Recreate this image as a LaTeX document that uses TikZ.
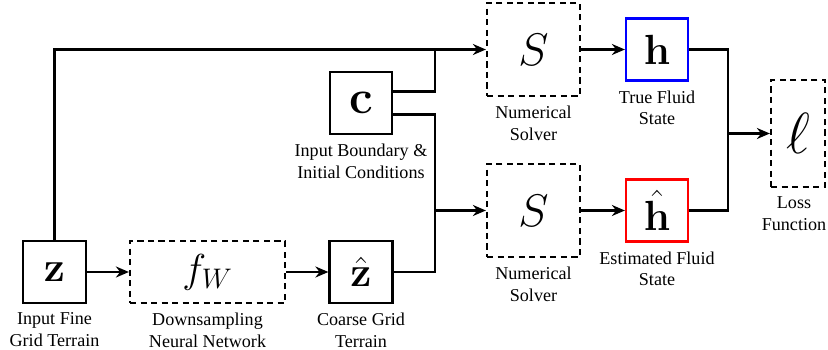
\documentclass[tikz,border=0pt]{standalone}
\usepackage{fix-cm}
\usepackage[no-math]{fontspec}
\setmainfont{Liberation Serif}
\usetikzlibrary{arrows.meta, positioning, calc}

\newcommand{\symsize}[1]{\fontsize{#1}{#1}\selectfont}

\begin{document}
\begin{tikzpicture}[
    every node/.style={font=\fontsize{10.3}{12.3}\selectfont},
    var/.style={rectangle, draw, line width=1.25pt, fill=white, minimum width=1.24cm, minimum height=1.24cm, inner sep=0pt},
    op/.style={var, dash pattern=on 3.5pt off 2.5pt},
    lbl/.style={align=center, inner sep=0pt, below=1.7mm of #1},
    arrow/.style={-{Stealth[length=2.6mm, width=2.2mm]}, line width=1.25pt},
    link/.style={line width=1.25pt}
]
\useasboundingbox (0,0) rectangle (16.56,-6.98);

% Bottom row
\node[var, minimum width=1.26cm] (z) at (1.09,-5.44) {\symsize{24}$\mathbf{z}$};
\node[op, minimum width=3.1cm] (fw) at (4.15,-5.44) {\symsize{23}$f_W$};
\node[var, minimum width=1.26cm] (zhat) at (7.22,-5.44) {\symsize{24}$\hat{\mathbf{z}}$};

% Boundary conditions
\node[var] (c) at (7.22,-2.06) {\symsize{27}$\mathbf{c}$};

% Solvers
\node[op, minimum width=1.86cm, minimum height=1.86cm] (s1) at (10.67,-0.99) {\symsize{26}$S$};
\node[op, minimum width=1.86cm, minimum height=1.86cm] (s2) at (10.67,-4.21) {\symsize{26}$S$};

% Fluid states
\node[var, draw=blue] (h) at (13.14,-0.99) {\symsize{24}$\mathbf{h}$};
\node[var, draw=red] (hhat) at (13.14,-4.21) {\symsize{24}$\hat{\mathbf{h}}$};

% Loss
\node[op, minimum width=1.08cm, minimum height=2.14cm] (loss) at (15.96,-2.67) {\symsize{33}$\ell$};

% Labels
\node[lbl=z] (zlab) {Input Fine\\Grid Terrain};
\node[lbl=fw] (fwlab) {Downsampling\\Neural Network};
\node[lbl=zhat] (zhatlab) {Coarse Grid\\Terrain};
\node[lbl=c] (clab) {Input Boundary \&\\Initial Conditions};
\node[lbl=s1] (s1lab) {Numerical\\Solver};
\node[lbl=s2] (s2lab) {Numerical\\Solver};
\node[lbl=h] (hlab) {True Fluid\\State};
\node[lbl=hhat] (hhatlab) {Estimated Fluid\\State};
\node[lbl=loss, xshift=-0.08cm] (losslab) {Loss\\Function};

% Junctions
\path (s1.west) ++(-1.02,0) coordinate (jt);
\path (s2.west) ++(-1.02,0) coordinate (jb);
\path (loss.west) ++(-0.84,0) coordinate (jl);

% Connections
\draw[arrow] (z) -- (fw);
\draw[arrow] (fw) -- (zhat);
\draw[arrow] (z.north) |- (s1.west);
\draw[link] ([yshift=2.3mm]c.east) -| (jt);
\draw[link] ([yshift=-2.3mm]c.east) -| (jb);
\draw[link] (zhat.east) -| (jb);
\draw[arrow] (jb) -- (s2.west);
\draw[arrow] (s1) -- (h);
\draw[arrow] (s2) -- (hhat);
\draw[link] (h.east) -| (jl);
\draw[link] (hhat.east) -| (jl);
\draw[arrow] (jl) -- (loss.west);

\end{tikzpicture}
\end{document}
